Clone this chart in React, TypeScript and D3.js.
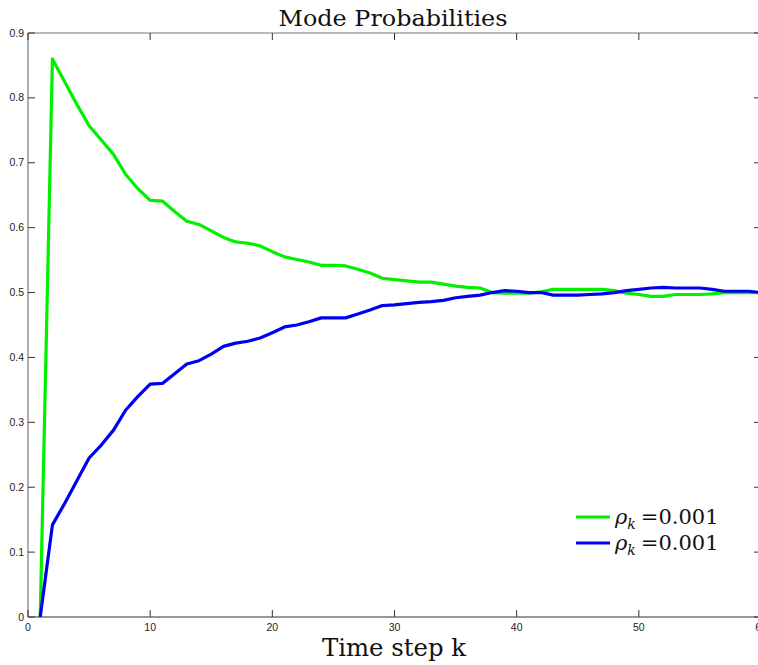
import React from "react";
import * as d3 from "d3";

const steps = d3.range(1, 61);
const greenValues = [
  0, 0.86, 0.825, 0.79, 0.757, 0.735, 0.713, 0.682, 0.66, 0.642,
  0.641, 0.625, 0.61, 0.605, 0.595, 0.585, 0.578, 0.576, 0.572, 0.563,
  0.555, 0.551, 0.547, 0.542, 0.542, 0.541, 0.536, 0.53, 0.522, 0.52,
  0.518, 0.516, 0.516, 0.513, 0.51, 0.508, 0.507, 0.5, 0.499, 0.499,
  0.499, 0.501, 0.505, 0.505, 0.505, 0.505, 0.505, 0.503, 0.499, 0.497,
  0.494, 0.494, 0.497, 0.497, 0.497, 0.498, 0.5, 0.5, 0.5, 0.5,
];
const blueValues = [
  0, 0.142, 0.175, 0.21, 0.245, 0.265, 0.288, 0.319, 0.34, 0.359,
  0.36, 0.375, 0.39, 0.395, 0.405, 0.417, 0.422, 0.425, 0.43, 0.438,
  0.447, 0.45, 0.455, 0.461, 0.461, 0.461, 0.467, 0.473, 0.48, 0.481,
  0.483, 0.485, 0.486, 0.488, 0.492, 0.494, 0.496, 0.5, 0.503, 0.502,
  0.5, 0.5, 0.496, 0.496, 0.496, 0.497, 0.498, 0.5, 0.503, 0.505,
  0.507, 0.508, 0.507, 0.507, 0.507, 0.505, 0.502, 0.502, 0.502, 0.5,
];
const xTicks = [0, 10, 20, 30, 40, 50, 60];
const yTicks = [0, 0.1, 0.2, 0.3, 0.4, 0.5, 0.6, 0.7, 0.8, 0.9];
const legendLabels = ["=0.001", "=0.001"];
const title = "Mode Probabilities";
const xLabel = "Time step k";

export default function App() {
  const W = 758, H = 665;
  const x = d3.scaleLinear().domain([0, 60]).range([28, 761]);
  const y = d3.scaleLinear().domain([0, 0.9]).range([617, 33]);
  const line = d3
    .line<number>()
    .x((_, i) => x(steps[i]))
    .y((d) => y(d));
  const series = [
    { vals: greenValues, color: "#00f000" },
    { vals: blueValues, color: "#0000f0" },
  ];
  const tickFont = "Arial, 'Liberation Sans', sans-serif";
  const serif = "'DejaVu Serif', serif";
  return (
    <svg
      width={W}
      height={H}
      style={{ position: "absolute", left: 0, top: 0, background: "#fff" }}
    >
      <rect x={0} y={0} width={W} height={H} fill="#fff" />
      {/* axes box */}
      <line x1={x(0)} x2={W} y1={y(0.9)} y2={y(0.9)} stroke="#777" strokeWidth={1.2} />
      <line x1={x(0)} x2={x(0)} y1={y(0.9)} y2={y(0)} stroke="#777" strokeWidth={1.2} />
      <line x1={x(0)} x2={W} y1={y(0)} y2={y(0)} stroke="#333" strokeWidth={1.2} />
      {/* x ticks */}
      {xTicks.map((t) => (
        <g key={"x" + t}>
          <line x1={x(t)} x2={x(t)} y1={y(0)} y2={y(0) - 7} stroke="#333" strokeWidth={1} />
          <line x1={x(t)} x2={x(t)} y1={y(0.9)} y2={y(0.9) + 7} stroke="#333" strokeWidth={1} />
          <text
            x={x(t)}
            y={y(0) + 14}
            textAnchor="middle"
            fontFamily={tickFont}
            fontSize={10.5}
            fill="#222"
          >
            {t}
          </text>
        </g>
      ))}
      {/* y ticks */}
      {yTicks.map((t) => (
        <g key={"y" + t}>
          <line x1={x(0)} x2={x(0) + 7} y1={y(t)} y2={y(t)} stroke="#333" strokeWidth={1} />
          <line x1={x(60)} x2={x(60) - 7} y1={y(t)} y2={y(t)} stroke="#333" strokeWidth={1} />
          <text
            x={24}
            y={y(t) + 3.5}
            textAnchor="end"
            fontFamily={tickFont}
            fontSize={10.5}
            fill="#222"
          >
            {t === 0 ? "0" : t.toFixed(1)}
          </text>
        </g>
      ))}
      <defs>
        <clipPath id="plotclip">
          <rect x={x(0)} y={y(0.9)} width={x(60) - x(0)} height={y(0) - y(0.9)} />
        </clipPath>
      </defs>
      <g clipPath="url(#plotclip)">
        {series.map((s, i) => (
          <path
            key={i}
            d={line(s.vals) || ""}
            fill="none"
            stroke={s.color}
            strokeWidth={3.2}
            strokeLinejoin="round"
          />
        ))}
      </g>
      {/* title */}
      <text
        x={393}
        y={26}
        textAnchor="middle"
        fontFamily={serif}
        fontSize={22}
        fill="#111"
        textLength={229}
        lengthAdjust="spacingAndGlyphs"
      >
        {title}
      </text>
      {/* x label */}
      <text
        x={394}
        y={656}
        textAnchor="middle"
        fontFamily={serif}
        fontSize={25}
        fill="#111"
        textLength={144}
        lengthAdjust="spacingAndGlyphs"
      >
        {xLabel}
      </text>
      {/* legend */}
      {series.map((s, i) => {
        const ly = 517 + i * 26;
        return (
          <g key={"lg" + i}>
            <line x1={576} x2={610} y1={ly} y2={ly} stroke={s.color} strokeWidth={3.2} />
            <text x={615} y={ly + 7} fontFamily={serif} fontSize={21} fill="#111">
              <tspan fontStyle="italic">ρ</tspan>
              <tspan fontStyle="italic" fontSize={14} dy={5}>k</tspan>
              <tspan dy={-5} dx={5}>{legendLabels[i]}</tspan>
            </text>
          </g>
        );
      })}
    </svg>
  );
}
